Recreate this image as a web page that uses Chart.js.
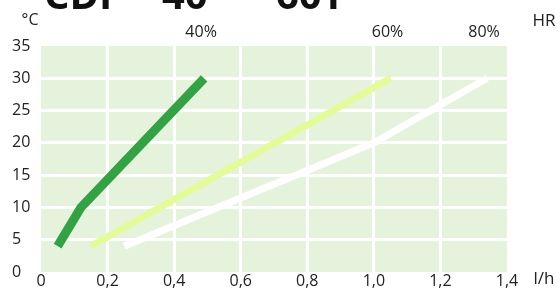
<!DOCTYPE html>
<html lang="en">
<head>
    <meta charset="UTF-8">
    <title>Débit en fonction de la température</title>
    <script src="https://cdn.jsdelivr.net/npm/chart.js"></script>
    <style>
        body { margin: 0; background: #fff; }
        #chart { display: block; }
    </style>
</head>
<body>
    <canvas id="chart" width="560" height="289"></canvas>
    <script>
        // axis ticks
        const xTicks = [0, 0.2, 0.4, 0.6, 0.8, 1.0, 1.2, 1.4];
        const yTicks = [0, 5, 10, 15, 20, 25, 30, 35];

        // curves, one per relative humidity
        const seriesNames = ['40%', '60%', '80%'];
        const hr40X = [0.05, 0.12, 0.49];
        const hr40Y = [4, 10, 30];
        const hr60X = [0.15, 1.05];
        const hr60Y = [4, 30];
        const hr80X = [0.25, 1.0, 1.34];
        const hr80Y = [4, 20, 30];

        const toPoints = (xs, ys) => xs.map((x, i) => ({ x: x, y: ys[i] }));
        const fmt = v => v === 0 ? '0' : v.toFixed(1).replace('.', ',');
        const FONT = '"Open Sans", sans-serif';

        // green background + free labels
        const decor = {
            id: 'decor',
            beforeDraw(chart) {
                const { ctx, chartArea: a } = chart;
                ctx.save();
                ctx.fillStyle = '#e6f3dc';
                ctx.fillRect(a.left, a.top, a.right - a.left, a.bottom - a.top);
                ctx.restore();
            },
            afterDraw(chart) {
                const { ctx } = chart;
                const xs = chart.scales.x;
                ctx.save();
                ctx.fillStyle = '#222';
                ctx.font = '16px ' + FONT;
                ctx.textBaseline = 'middle';
                ctx.textAlign = 'center';
                chart.data.datasets.forEach(ds => {
                    const last = ds.data[ds.data.length - 1];
                    ctx.fillText(ds.label, xs.getPixelForValue(last.x) - 3, 32);
                });
                ctx.fillText('°C', 30, 20);
                ctx.font = '17px ' + FONT;
                ctx.fillText('HR', 544, 21);
                ctx.fillText('l/h', 544, 279);

                // title, mostly above the visible area
                ctx.fillStyle = '#111';
                ctx.font = 'bold 40px ' + FONT;
                ctx.textAlign = 'left';
                ctx.textBaseline = 'alphabetic';
                ctx.fillText('CDP', 44, 9);
                ctx.fillText('40', 162, 9);
                ctx.fillText('60T', 276, 9);
                ctx.restore();
            }
        };

        const gridColor = ctx => {
            const v = ctx.tick && ctx.tick.value;
            return (v === 0 || v === 35 || v === 1.4) ? 'rgba(0,0,0,0)' : '#ffffff';
        };

        new Chart(document.getElementById('chart'), {
            type: 'line',
            data: {
                datasets: [
                    { label: seriesNames[0], data: toPoints(hr40X, hr40Y), borderColor: '#35a145', borderWidth: 9 },
                    { label: seriesNames[1], data: toPoints(hr60X, hr60Y), borderColor: '#e3fb9b', borderWidth: 7 },
                    { label: seriesNames[2], data: toPoints(hr80X, hr80Y), borderColor: '#ffffff', borderWidth: 7 }
                ]
            },
            options: {
                responsive: false,
                animation: false,
                layout: { padding: { left: 12, top: 46, right: 53, bottom: 0 } },
                elements: {
                    point: { radius: 0 },
                    line: { tension: 0, borderCapStyle: 'butt', borderJoinStyle: 'miter' }
                },
                plugins: {
                    legend: { display: false },
                    tooltip: { enabled: false }
                },
                scales: {
                    x: {
                        type: 'linear',
                        min: 0,
                        max: 1.4,
                        afterBuildTicks: axis => { axis.ticks = xTicks.map(v => ({ value: v })); },
                        afterFit: axis => { axis.height = 17; },
                        ticks: {
                            autoSkip: false,
                            maxRotation: 0,
                            padding: 0,
                            color: '#222',
                            font: { family: FONT, size: 16 },
                            callback: v => fmt(v)
                        },
                        grid: { color: gridColor, lineWidth: 3, drawTicks: false },
                        border: { display: false }
                    },
                    y: {
                        min: 0,
                        max: 35,
                        afterBuildTicks: axis => { axis.ticks = yTicks.map(v => ({ value: v })); },
                        afterFit: axis => { axis.width = 29; },
                        ticks: {
                            crossAlign: 'far',
                            padding: 0,
                            color: '#222',
                            font: { family: FONT, size: 16 },
                            callback: v => String(v)
                        },
                        grid: { color: gridColor, lineWidth: 3, drawTicks: false },
                        border: { display: false }
                    }
                }
            },
            plugins: [decor]
        });
    </script>
</body>
</html>
